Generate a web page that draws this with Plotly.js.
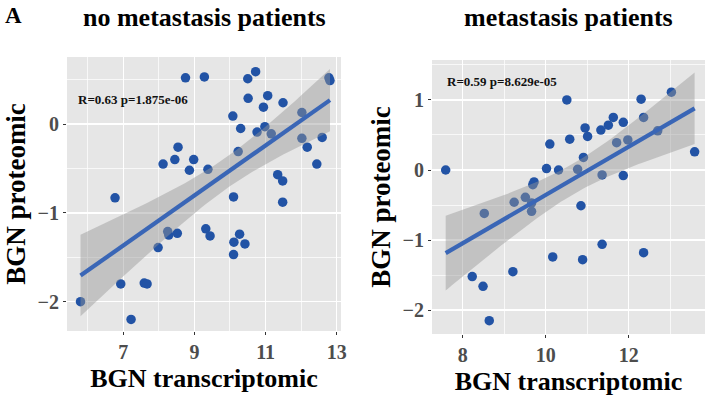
<!DOCTYPE html>
<html>
<head>
<meta charset="utf-8">
<script src="https://cdn.plot.ly/plotly-3.0.1.min.js"></script>
<style>html,body{margin:0;padding:0;background:#fff;}#chart{width:705px;height:398px;}</style>
</head>
<body>
<div id="chart"></div>
<script>
// ---- Data: no metastasis patients ----
const noMetX = [5.80, 6.77, 6.93, 7.22, 7.59, 7.67, 7.98, 8.12, 8.25, 8.28, 8.45, 8.52, 8.54, 8.75, 8.86, 8.98,
  9.28, 9.32, 9.38, 9.44, 10.08, 10.10, 10.11, 10.10, 10.23, 10.27, 10.30, 10.42, 10.50, 10.51, 10.72, 10.76,
  10.94, 10.98, 11.06, 11.16, 11.34, 11.48, 11.48, 11.49, 12.02, 12.02, 12.17, 12.44, 12.59, 12.78, 12.81];
const noMetY = [-2.00, -0.83, -1.80, -2.20, -1.79, -1.80, -1.39, -0.45, -1.21, -1.25, -0.40, -1.23, -0.26, 0.52, -0.52, -0.40,
  0.53, -1.18, -0.51, -1.26, 0.09, -0.82, -1.33, -1.47, -0.31, -1.24, -0.05, -1.35, 0.51, 0.29, 0.59, -0.09,
  0.19, -0.03, 0.32, -0.11, -0.57, -0.64, -0.88, 0.24, 0.13, -0.16, -0.26, -0.45, -0.15, 0.52, 0.49];
// ---- Data: metastasis patients ----
const metX = [7.59, 8.23, 8.49, 8.52, 8.64, 9.21, 9.24, 9.51, 9.66, 9.66, 9.69, 9.72, 10.02, 10.10, 10.17, 10.31,
  10.51, 10.58, 10.77, 10.85, 10.89, 10.91, 10.95, 11.01, 11.33, 11.36, 11.36, 11.51, 11.63, 11.71, 11.87, 11.87,
  11.98, 12.30, 12.36, 12.36, 12.70, 13.03, 13.59];
const metY = [0.00, -1.52, -1.66, -0.62, -2.15, -1.45, -0.46, -0.39, -0.59, -0.47, -0.21, -0.17, 0.02, 0.37, -1.24, 0.00,
  1.00, 0.44, 0.01, -0.51, -1.28, 0.18, 0.60, 0.48, 0.57, -0.07, -1.06, 0.64, 0.75, 0.39, 0.68, -0.08,
  0.43, 1.01, 0.75, -1.18, 0.56, 1.11, 0.26];
const panelTitles = ["no metastasis patients", "metastasis patients"];
const statLabels = ["R=0.63 p=1.875e-06", "R=0.59 p=8.629e-05"];
const xTitle = "BGN transcriptomic";
const yTitle = "BGN proteomic";

function tQuant(df) {
  const z = 1.959964;
  return z + (z*z*z + z) / (4*df) + (5*Math.pow(z,5) + 16*z*z*z + 3*z) / (96*df*df);
}
function fit(xs, ys) {
  const n = xs.length;
  const mx = xs.reduce((a,b)=>a+b,0)/n, my = ys.reduce((a,b)=>a+b,0)/n;
  let sxx=0, sxy=0;
  for (let i=0;i<n;i++){ sxx+=(xs[i]-mx)**2; sxy+=(xs[i]-mx)*(ys[i]-my); }
  const b = sxy/sxx, a = my - b*mx;
  let sse=0; for (let i=0;i<n;i++){ sse += (ys[i]-a-b*xs[i])**2; }
  const s = Math.sqrt(sse/(n-2)), t = tQuant(n-2);
  const lo = Math.min(...xs), hi = Math.max(...xs);
  const gx=[], gy=[], up=[], dn=[];
  for (let k=0;k<=80;k++){
    const x = lo + (hi-lo)*k/80, y = a + b*x;
    const se = s*Math.sqrt(1/n + (x-mx)**2/sxx);
    gx.push(x); gy.push(y); up.push(y+t*se); dn.push(y-t*se);
  }
  return {gx, gy, up, dn};
}

const PT = '#2253a5', LN = '#3a66b6', RIB = 'rgba(150,150,150,0.45)';
function panelTraces(xs, ys, xa, ya) {
  const f = fit(xs, ys);
  return [
    {x: xs, y: ys, xaxis: xa, yaxis: ya, type: 'scatter', mode: 'markers',
     marker: {color: PT, size: 9.5}, hoverinfo: 'skip', showlegend: false},
    {x: f.gx.concat(f.gx.slice().reverse()), y: f.up.concat(f.dn.slice().reverse()),
     xaxis: xa, yaxis: ya, type: 'scatter', mode: 'lines', fill: 'toself',
     fillcolor: RIB, line: {width: 0}, hoverinfo: 'skip', showlegend: false},
    {x: f.gx, y: f.gy, xaxis: xa, yaxis: ya, type: 'scatter', mode: 'lines',
     line: {color: LN, width: 4.2}, hoverinfo: 'skip', showlegend: false}
  ];
}

const data = panelTraces(noMetX, noMetY, 'x', 'y').concat(panelTraces(metX, metY, 'x2', 'y2'));

const FF = '"Times New Roman", "Liberation Serif", serif';
const tickFont = {family: FF, size: 20, color: '#4d4d4d', weight: 'bold'};
function axisX(range, tick0, dtick, domain, anchor) {
  return {domain, anchor, range, tick0, dtick, showgrid: true, gridcolor: '#ffffff', gridwidth: 1.4,
    minor: {dtick: dtick/2, tick0, showgrid: true, gridcolor: '#ffffff', gridwidth: 0.7},
    zeroline: false, showline: false, ticks: 'outside', ticklen: 3, tickcolor: '#333', tickwidth: 1,
    tickfont: tickFont, fixedrange: true,
    title: {text: '<b>' + xTitle + '</b>', font: {family: FF, size: 26, color: '#000'}, standoff: 6}};
}
function axisY(range, domain, anchor) {
  return {domain, anchor, range, tick0: 0, dtick: 1, showgrid: true, gridcolor: '#ffffff', gridwidth: 1.4,
    minor: {dtick: 0.5, tick0: 0, showgrid: true, gridcolor: '#ffffff', gridwidth: 0.7},
    zeroline: false, showline: false, ticks: 'outside', ticklen: 3, tickcolor: '#333', tickwidth: 1,
    tickfont: tickFont, fixedrange: true,
    title: {text: '<b>' + yTitle + '</b>', font: {family: FF, size: 27, color: '#000'}, standoff: 4}};
}

const layout = {
  width: 705, height: 398,
  margin: {l: 67, r: 0, t: 57, b: 64},
  paper_bgcolor: '#ffffff', plot_bgcolor: '#e6e6e6',
  xaxis: axisX([5.42, 13.12], 7, 2, [0, 0.4295], 'y'),
  yaxis: axisY([-2.33, 0.755], [0.0108, 1], 'x'),
  xaxis2: axisX([7.26, 13.84], 8, 2, [0.5721, 1], 'y2'),
  yaxis2: axisY([-2.34, 1.57], [0, 0.9892], 'x2'),
  showlegend: false,
  annotations: [
    {text: '<b>A</b>', xref: 'paper', yref: 'paper', x: -0.101, y: 1.203, xanchor: 'left', yanchor: 'top',
     showarrow: false, font: {family: FF, size: 23, color: '#000'}},
    {text: '<b>' + panelTitles[0] + '</b>', xref: 'paper', yref: 'paper', x: 0.2148, y: 1.141,
     xanchor: 'center', yanchor: 'middle', showarrow: false, font: {family: FF, size: 26, color: '#000'}},
    {text: '<b>' + panelTitles[1] + '</b>', xref: 'paper', yref: 'paper', x: 0.786, y: 1.141,
     xanchor: 'center', yanchor: 'middle', showarrow: false, font: {family: FF, size: 26, color: '#000'}},
    {text: '<b>' + statLabels[0] + '</b>', xref: 'paper', yref: 'paper', x: 0.0135, y: 0.845,
     xanchor: 'left', yanchor: 'middle', showarrow: false, font: {family: FF, size: 13, color: '#111'}},
    {text: '<b>' + statLabels[1] + '</b>', xref: 'paper', yref: 'paper', x: 0.593, y: 0.913,
     xanchor: 'left', yanchor: 'middle', showarrow: false, font: {family: FF, size: 13, color: '#111'}}
  ]
};

Plotly.newPlot('chart', data, layout, {staticPlot: true, displayModeBar: false});
</script>
</body>
</html>
